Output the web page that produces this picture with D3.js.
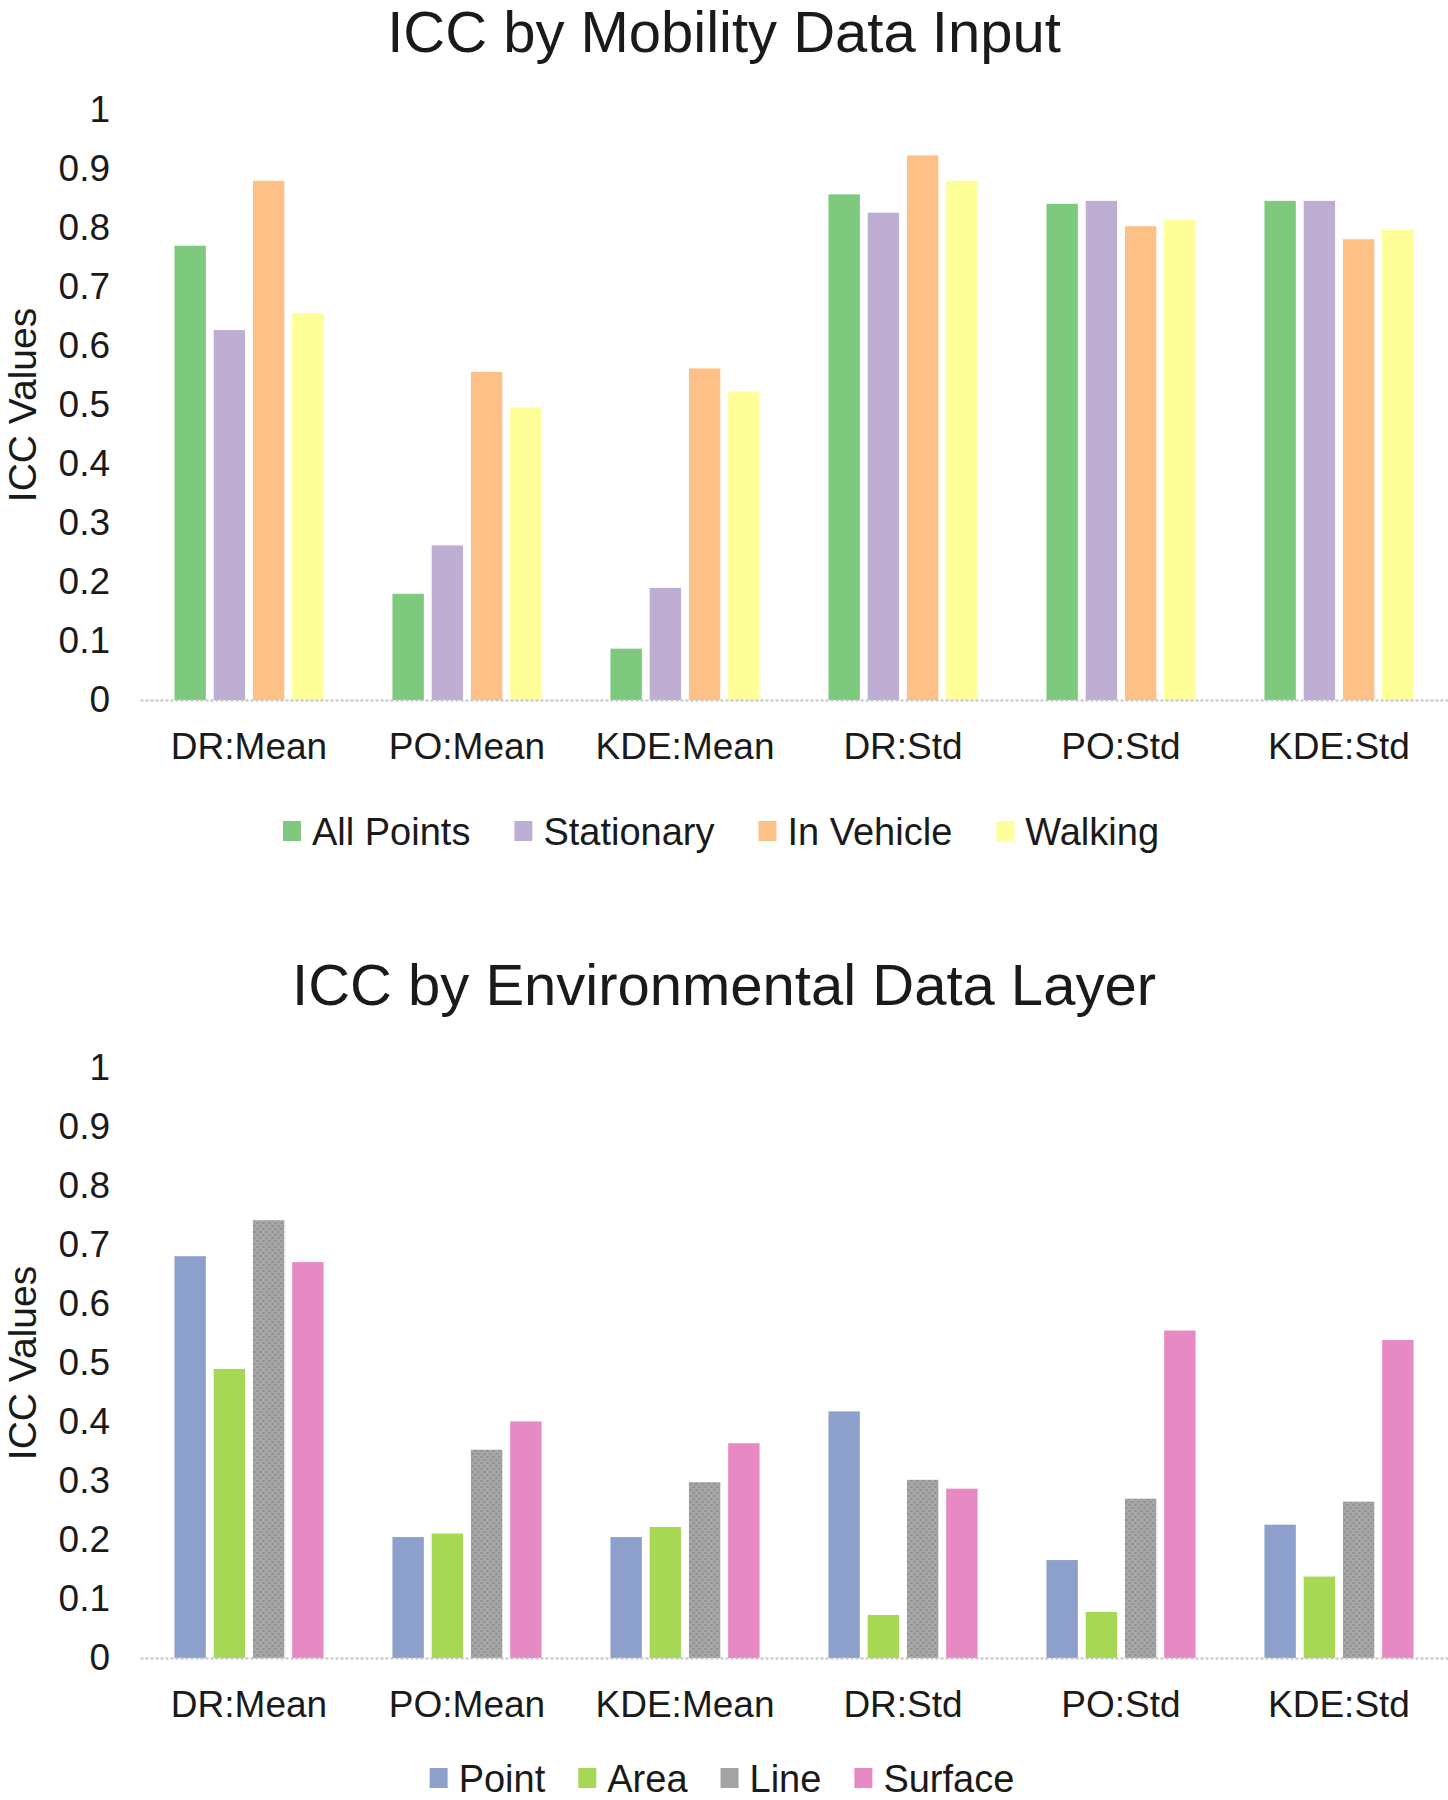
<!DOCTYPE html>
<html>
<head>
<meta charset="utf-8">
<script src="https://cdn.jsdelivr.net/npm/d3@7"></script>
<style>
  html, body { margin: 0; padding: 0; background: #fff; }
  svg { display: block; }
  text { font-family: "Liberation Sans", Arial, sans-serif; fill: #1a1a1a; }
</style>
</head>
<body>
<svg id="chart" width="1448" height="1800"></svg>
<script>
// ---------- data ----------
const categories = ["DR:Mean", "PO:Mean", "KDE:Mean", "DR:Std", "PO:Std", "KDE:Std"];
const yTickValues = [0, 0.1, 0.2, 0.3, 0.4, 0.5, 0.6, 0.7, 0.8, 0.9, 1];
const yTickLabels = ["0", "0.1", "0.2", "0.3", "0.4", "0.5", "0.6", "0.7", "0.8", "0.9", "1"];

const mobilityTitle = "ICC by Mobility Data Input";
const mobilitySeries = ["All Points", "Stationary", "In Vehicle", "Walking"];
const allPoints  = [0.770, 0.180, 0.087, 0.857, 0.841, 0.846];
const stationary = [0.627, 0.262, 0.190, 0.826, 0.846, 0.846];
const inVehicle  = [0.880, 0.556, 0.562, 0.923, 0.803, 0.781];
const walking    = [0.656, 0.496, 0.523, 0.880, 0.814, 0.797];
const mobilityColors = ["#7fc97f", "#beaed4", "#fdc086", "#ffff99"];

const envTitle = "ICC by Environmental Data Layer";
const envSeries = ["Point", "Area", "Line", "Surface"];
const pointVals   = [0.681, 0.205, 0.205, 0.418, 0.166, 0.226];
const areaVals    = [0.490, 0.211, 0.222, 0.073, 0.078, 0.138];
const lineVals    = [0.742, 0.353, 0.298, 0.302, 0.270, 0.265];
const surfaceVals = [0.671, 0.401, 0.364, 0.287, 0.555, 0.539];
const envColors = ["#8da0cb", "#a6d854", "url(#dots)", "#e78ac3"];
const envSwatch = ["#8da0cb", "#a6d854", "#a3a3a3", "#e78ac3"];

const yTitle = "ICC Values";

// ---------- drawing ----------
const svg = d3.select("#chart");
const defs = svg.append("defs");
const pat = defs.append("pattern").attr("id", "dots")
  .attr("patternUnits", "userSpaceOnUse").attr("width", 6).attr("height", 6);
pat.append("rect").attr("width", 6).attr("height", 6).attr("fill", "#a6a6a6");
pat.append("rect").attr("x", 1).attr("y", 1).attr("width", 2).attr("height", 2).attr("fill", "#8e8e8e");
pat.append("rect").attr("x", 4).attr("y", 4).attr("width", 2).attr("height", 2).attr("fill", "#8e8e8e");

function drawChart(opt) {
  const g = svg.append("g");
  const left = 140, right = 1448;
  const top = opt.top, bottom = opt.bottom;

  const x0 = d3.scaleBand().domain(categories).range([left, right])
    .paddingInner(0.316).paddingOuter(0.158);
  const x1 = d3.scaleBand().domain(opt.series).range([0, x0.bandwidth()])
    .paddingInner(0.2);
  const y = d3.scaleLinear().domain([0, 1]).range([bottom, top]);

  // title
  g.append("text").attr("x", 724).attr("y", opt.titleY)
    .attr("text-anchor", "middle").attr("font-size", 58)
    .text(opt.title);

  // y axis title
  g.append("text")
    .attr("transform", `translate(36,${(top + bottom) / 2}) rotate(-90)`)
    .attr("text-anchor", "middle").attr("font-size", 39)
    .text(yTitle);

  // y axis
  const yAxis = d3.axisLeft(y).tickValues(yTickValues)
    .tickFormat((d, i) => yTickLabels[i]).tickSize(0).tickPadding(30);
  const ya = g.append("g").attr("transform", `translate(${left},0)`).call(yAxis);
  ya.select(".domain").remove();
  ya.selectAll("text").attr("font-size", 37).attr("fill", "#1a1a1a")
    .style("font-family", '"Liberation Sans", Arial, sans-serif');

  // bars
  const groups = g.append("g").selectAll("g").data(categories).join("g")
    .attr("transform", d => `translate(${x0(d)},0)`);
  groups.selectAll("rect")
    .data((c, ci) => opt.series.map((s, si) => ({ s, si, v: opt.values[si][ci] })))
    .join("rect")
    .attr("x", d => x1(d.s))
    .attr("width", x1.bandwidth())
    .attr("y", d => y(d.v))
    .attr("height", d => y(0) - y(d.v))
    .attr("fill", d => opt.colors[d.si]);

  // x axis
  const xAxis = d3.axisBottom(x0).tickSize(0).tickSizeOuter(0).tickPadding(33);
  const xa = g.append("g").attr("transform", `translate(0,${bottom})`).call(xAxis);
  xa.select(".domain").attr("stroke", "#c4c4c4").attr("stroke-width", 2)
    .attr("stroke-dasharray", "3,2");
  xa.selectAll("text").attr("font-size", 37).attr("fill", "#1a1a1a")
    .style("font-family", '"Liberation Sans", Arial, sans-serif');

  // legend
  const lg = g.append("g");
  const items = lg.selectAll("g").data(opt.series).join("g");
  items.append("rect").attr("width", 18).attr("height", 20)
    .attr("y", -24).attr("fill", (d, i) => opt.swatch[i]);
  items.append("text").attr("x", 29).attr("y", 0).attr("font-size", 38).text(d => d);
  let cx = 0;
  items.each(function () {
    const w = 29 + d3.select(this).select("text").node().getComputedTextLength();
    d3.select(this).attr("transform", `translate(${cx},0)`);
    cx += w + opt.legendGap;
  });
  const total = cx - opt.legendGap;
  lg.attr("transform", `translate(${opt.legendCx - total / 2},${opt.legendY})`);
}

drawChart({
  title: mobilityTitle, titleY: 52, top: 110, bottom: 700,
  series: mobilitySeries,
  values: [allPoints, stationary, inVehicle, walking],
  colors: mobilityColors, swatch: mobilityColors,
  legendY: 845, legendGap: 44, legendCx: 721
});

drawChart({
  title: envTitle, titleY: 1005, top: 1068, bottom: 1658,
  series: envSeries,
  values: [pointVals, areaVals, lineVals, surfaceVals],
  colors: envColors, swatch: envSwatch,
  legendY: 1792, legendGap: 33, legendCx: 722
});
</script>
</body>
</html>
